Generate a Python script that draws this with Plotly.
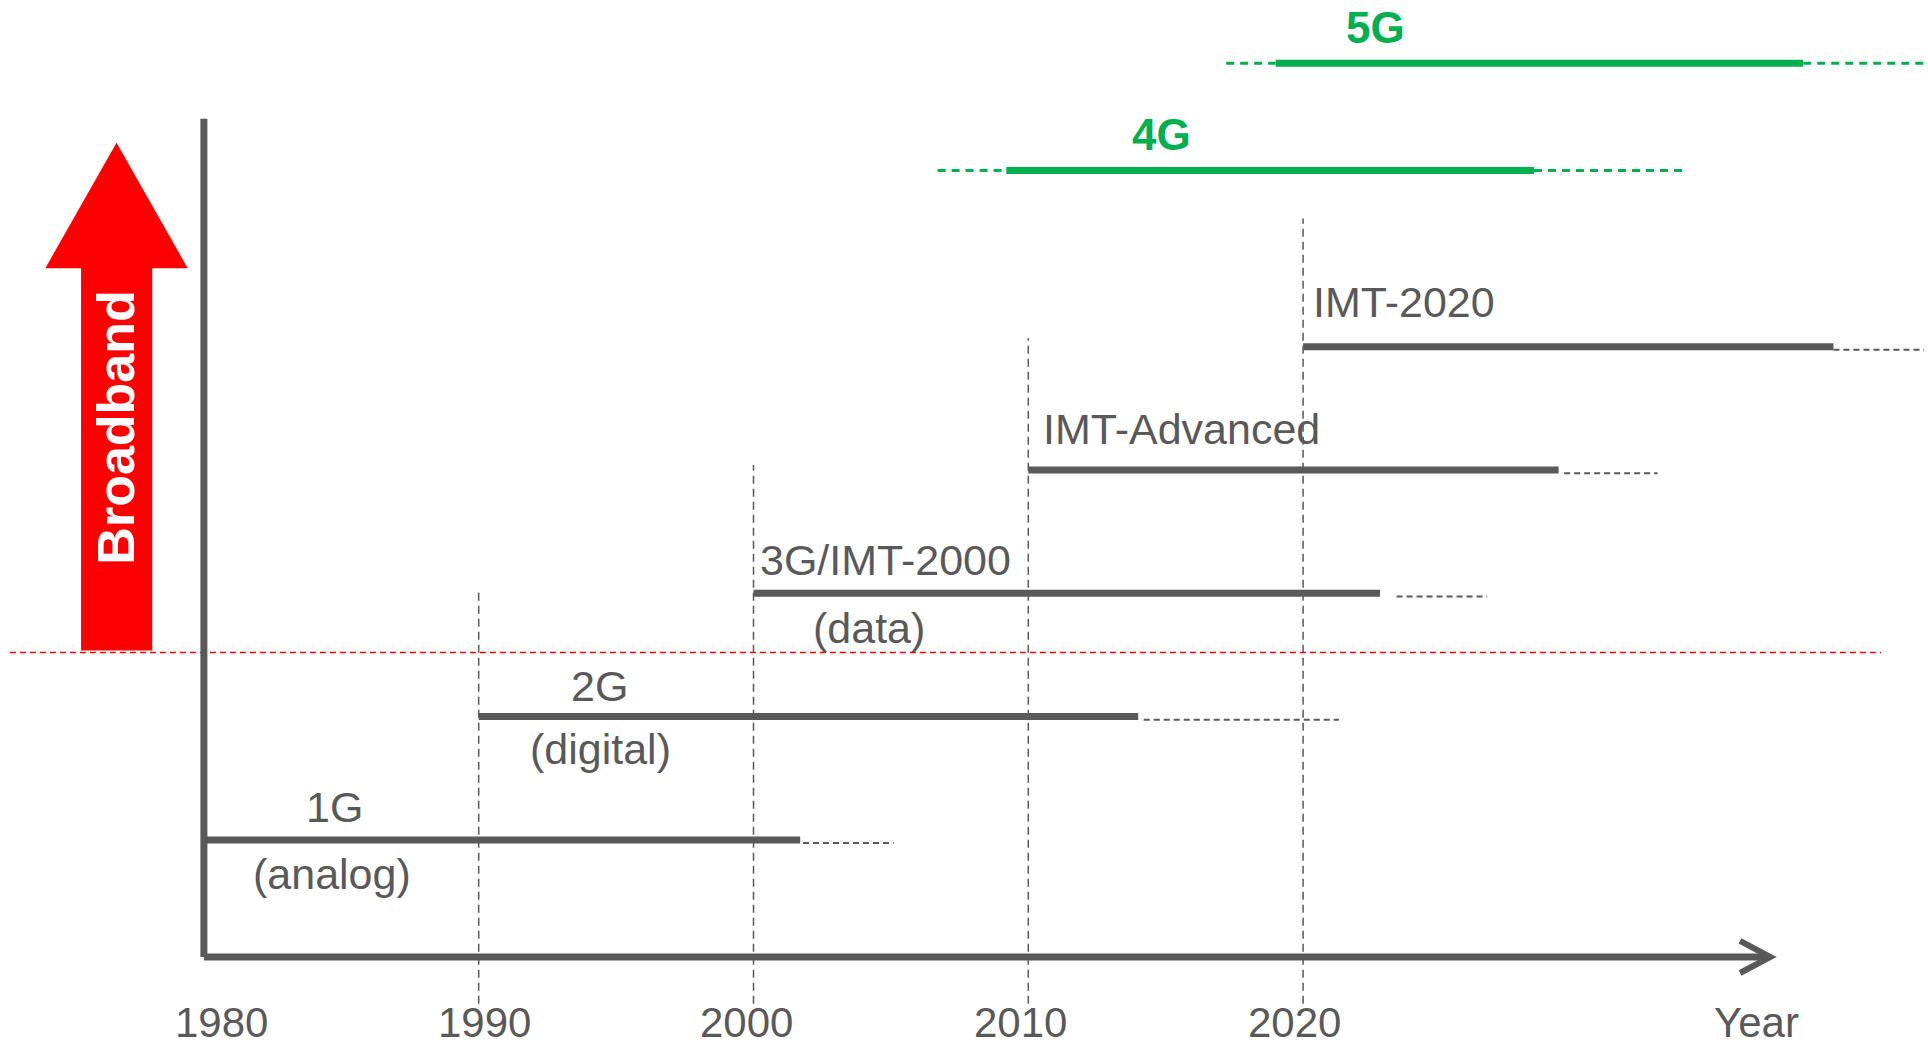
import plotly.graph_objects as go

# Mobile generations: solid span = main deployment period, dashed = tail
gen_names = ["1G", "2G", "3G/IMT-2000", "IMT-Advanced", "IMT-2020"]
gen_sub = ["(analog)", "(digital)", "(data)", "", ""]
gen_start = [1980.0, 1990.0, 2000.0, 2010.0, 2020.0]
gen_end = [2001.7, 2014.0, 2022.8, 2029.3, 2039.3]
gen_tail_start = [2001.8, 2014.2, 2023.4, 2029.5, 2039.3]
gen_tail_end = [2005.1, 2021.3, 2026.7, 2032.9, 2042.6]
gen_level = [1.0, 2.0, 3.0, 4.0, 5.0]

# Marketing generations (green)
mkt_names = ["4G", "5G"]
mkt_lead = [2006.7, 2017.2]
mkt_start = [2009.2, 2019.0]
mkt_end = [2028.4, 2038.2]
mkt_tail = [2034.0, 2042.6]
mkt_level = [6.43, 7.30]

decades = [1980, 1990, 2000, 2010, 2020]
decade_labels = ["1980", "1990", "2000", "2010", "2020"]
broadband_level = 2.52

GRAY = "#595959"
GREEN = "#00B050"
RED = "#FF0000"
FONT = "Liberation Sans Narrow, Arial Narrow, Liberation Sans, Arial, sans-serif"

fig = go.Figure()

# thick generation spans
for s, e, ts, te, lv in zip(gen_start, gen_end, gen_tail_start, gen_tail_end, gen_level):
    fig.add_trace(go.Scatter(x=[s, e], y=[lv, lv], mode="lines",
                             line=dict(color=GRAY, width=7), hoverinfo="skip"))
    fig.add_trace(go.Scatter(x=[ts, te], y=[lv - 0.025, lv - 0.025], mode="lines",
                             line=dict(color=GRAY, width=2, dash="6px,4px"), hoverinfo="skip"))

for a, s, e, t, lv in zip(mkt_lead, mkt_start, mkt_end, mkt_tail, mkt_level):
    fig.add_trace(go.Scatter(x=[a, s], y=[lv, lv], mode="lines",
                             line=dict(color=GREEN, width=3, dash="8px,6px"), hoverinfo="skip"))
    fig.add_trace(go.Scatter(x=[s, e], y=[lv, lv], mode="lines",
                             line=dict(color=GREEN, width=7), hoverinfo="skip"))
    fig.add_trace(go.Scatter(x=[e, t], y=[lv, lv], mode="lines",
                             line=dict(color=GREEN, width=3, dash="8px,6px"), hoverinfo="skip"))

# dashed decade guides, from the axis area up to just above each generation's row
guide_tops = [3.03, 4.04, 5.07, 6.04]
for yr, top in zip(decades[1:], guide_tops):
    fig.add_shape(type="line", x0=yr, x1=yr, y0=-0.33, y1=top, xref="x", yref="y",
                  line=dict(color=GRAY, width=1.5, dash="8px,5px"), layer="below")

# broadband threshold
fig.add_shape(type="line", x0=1972.94, x1=2041.03, y0=broadband_level, y1=broadband_level,
              line=dict(color=RED, width=1.6, dash="6px,4px"), layer="below")

# axes drawn as thick lines
fig.add_shape(type="line", x0=1980, x1=1980, y0=0.05, y1=6.85,
              line=dict(color=GRAY, width=7))
fig.add_shape(type="line", x0=1980, x1=2036.9, y0=0.05, y1=0.05,
              line=dict(color=GRAY, width=7))
fig.add_shape(type="path", path="M 2035.9,0.18 L 2037.0,0.05 L 2035.9,-0.08",
              line=dict(color=GRAY, width=6))

# red broadband arrow
fig.add_shape(type="path",
              path=("M 1975.53,2.536 L 1975.53,5.638 L 1974.23,5.638 L 1976.82,6.655 "
                    "L 1979.41,5.638 L 1978.12,5.638 L 1978.12,2.536 Z"),
              fillcolor=RED, line=dict(color=RED, width=0))
fig.add_annotation(x=1976.82, y=4.34, text="<b>Broadband</b>", textangle=-90,
                   showarrow=False, font=dict(family="Liberation Sans, Arial, sans-serif",
                                              size=52, color="white"))

# generation labels
label_pos = [(1984.74, 1.27, 1984.65, 0.72),
             (1994.41, 2.25, 1994.45, 1.74),
             (2004.79, 3.27, 2004.20, 2.72),
             (2015.57, 4.33, None, None),
             (2023.67, 5.36, None, None)]
for name, sub, (x1, y1, x2, y2) in zip(gen_names, gen_sub, label_pos):
    fig.add_annotation(x=x1, y=y1, text=name, showarrow=False,
                       font=dict(family=FONT, size=43, color=GRAY))
    if sub:
        fig.add_annotation(x=x2, y=y2, text=sub, showarrow=False,
                           font=dict(family=FONT, size=43, color=GRAY))

mkt_label_x = [2014.85, 2022.64]
for name, lx, lv in zip(mkt_names, mkt_label_x, mkt_level):
    fig.add_annotation(x=lx, y=lv + 0.29, text=f"<b>{name}</b>", showarrow=False,
                       font=dict(family=FONT, size=44, color=GREEN))

# decade labels under the time axis
decade_x = [1980.63, 1990.2, 1999.73, 2009.7, 2019.7]
for lx, txt in zip(decade_x, decade_labels):
    fig.add_annotation(x=lx, y=-0.48, text=txt, showarrow=False,
                       font=dict(family=FONT, size=42, color=GRAY))
fig.add_annotation(x=2036.5, y=-0.48, text="Year", showarrow=False,
                   font=dict(family=FONT, size=42, color=GRAY))

fig.update_layout(
    width=1928, height=1046,
    margin=dict(l=0, r=0, t=0, b=0),
    paper_bgcolor="white", plot_bgcolor="white",
    showlegend=False,
    xaxis=dict(range=[1972.58, 2042.74], visible=False, fixedrange=True),
    yaxis=dict(range=[-0.672, 7.813], visible=False, fixedrange=True),
)

fig.write_html("out.html")
